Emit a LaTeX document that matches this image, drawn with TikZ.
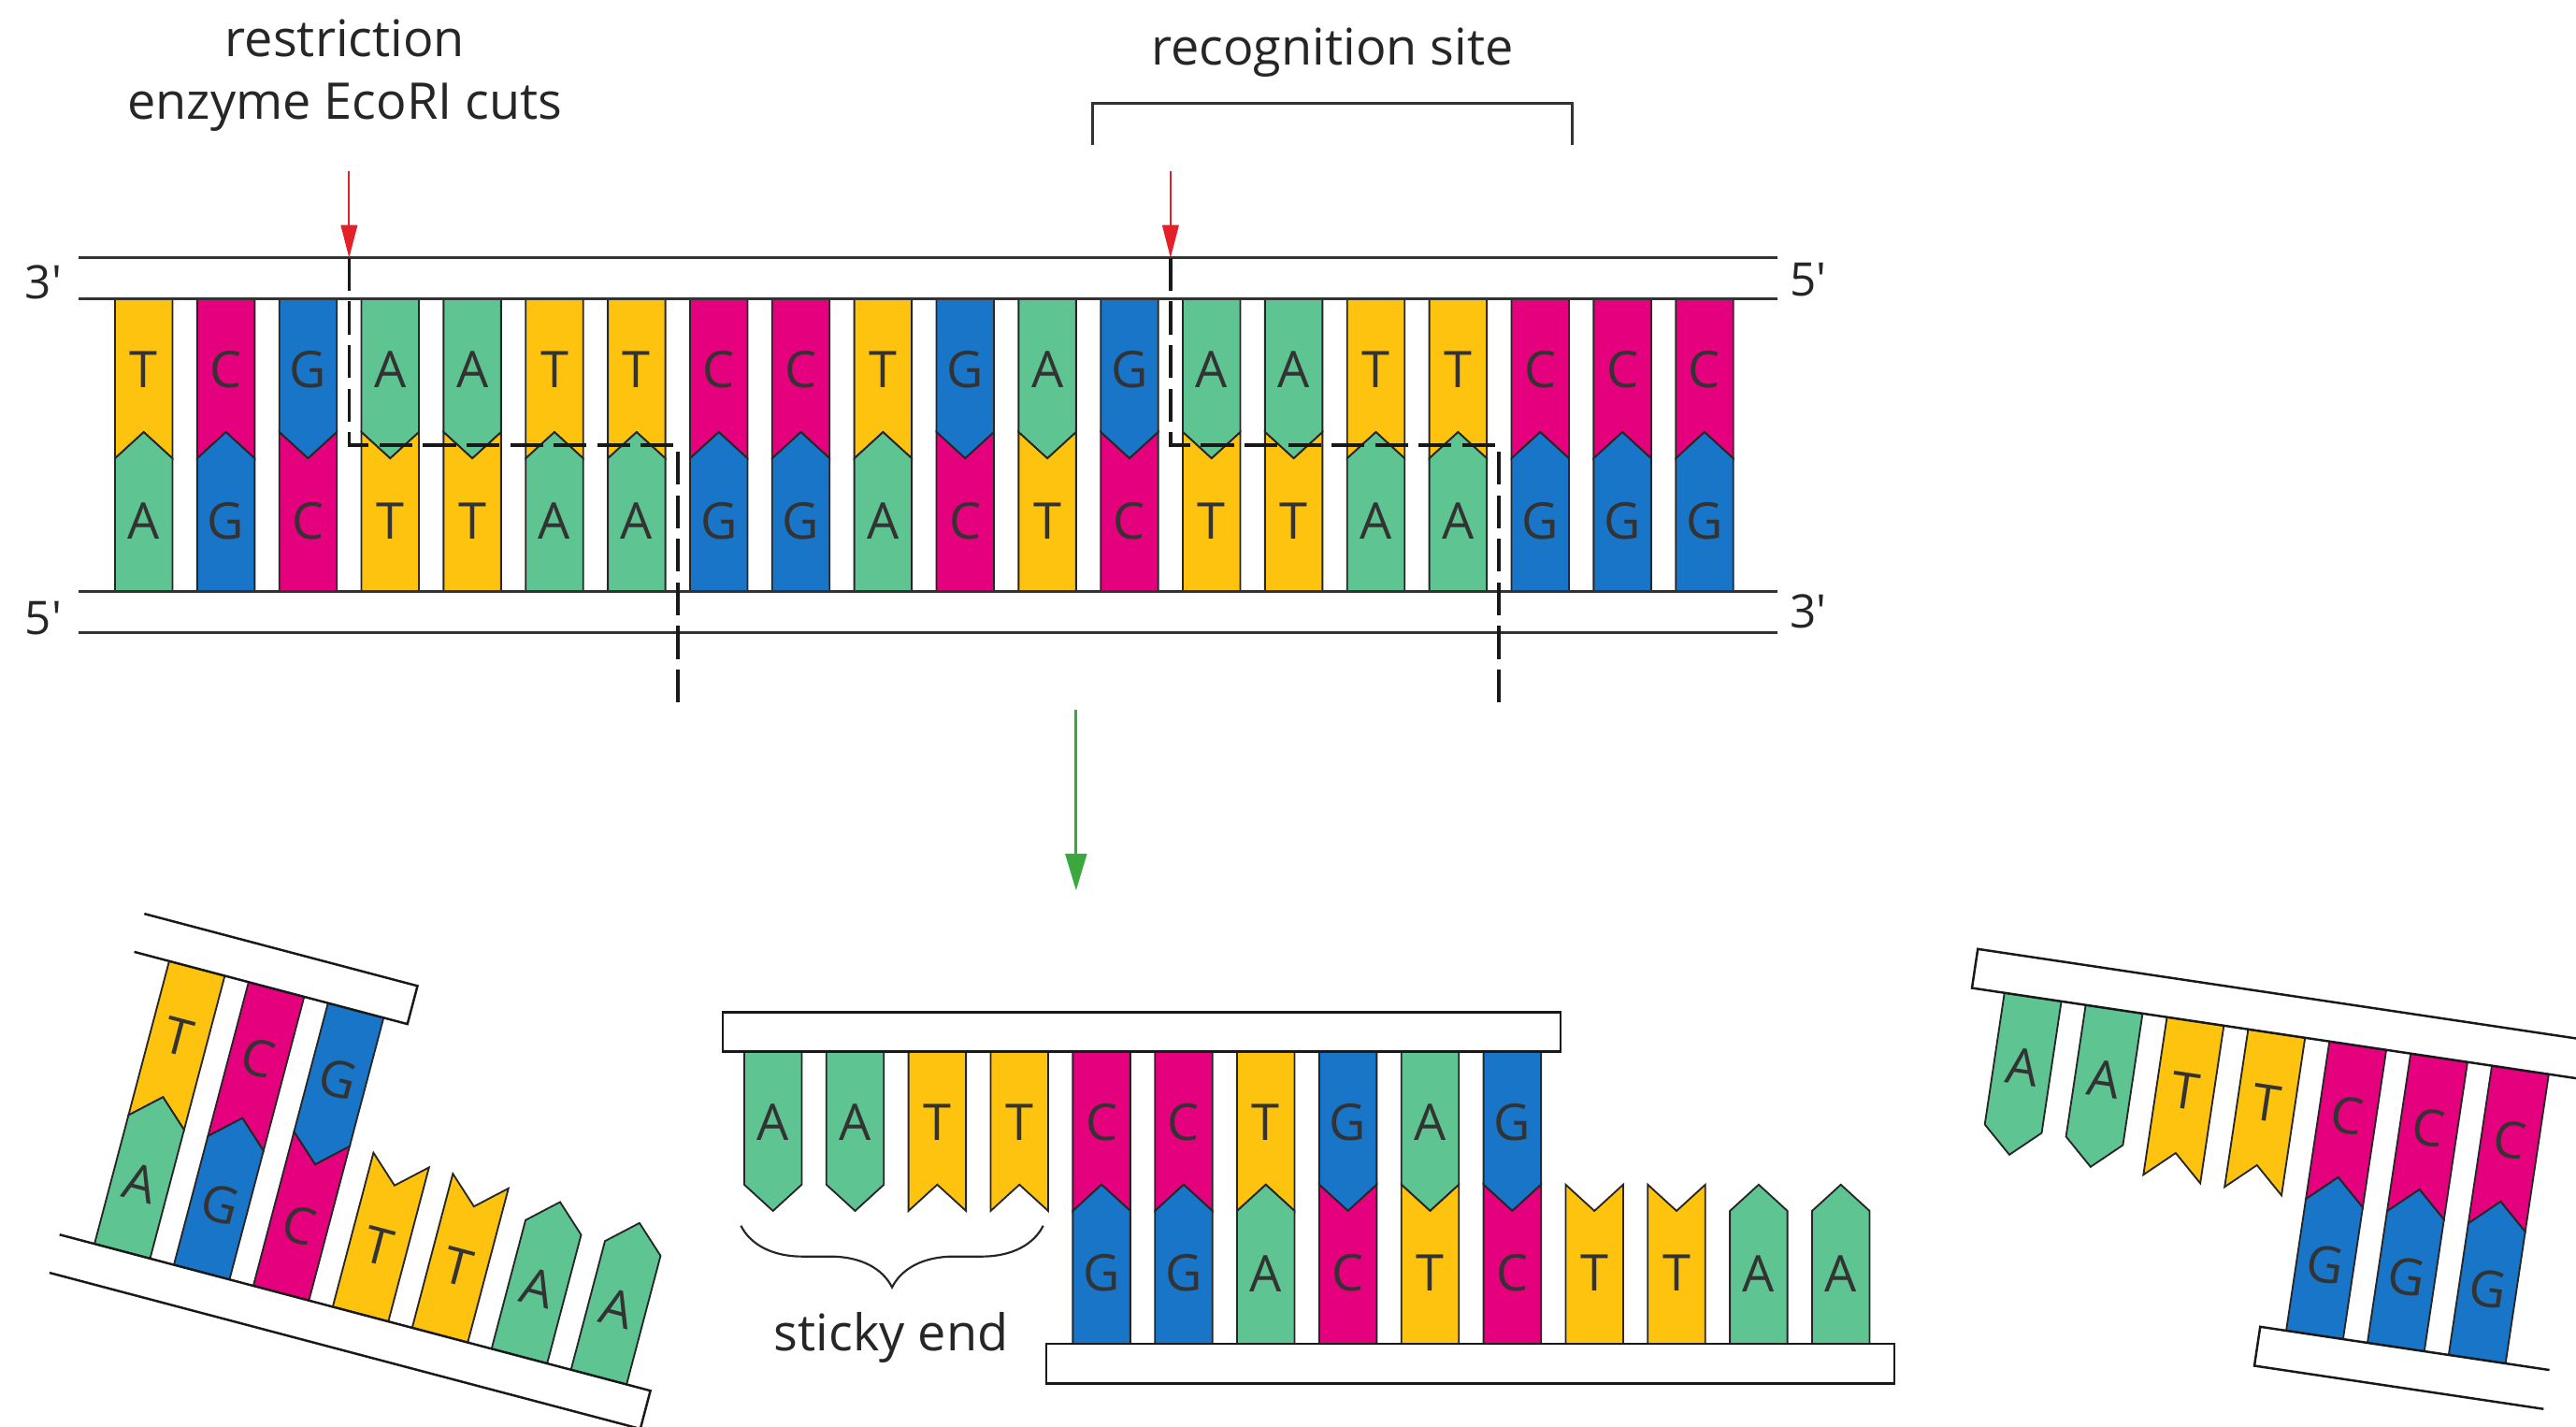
\documentclass[tikz,border=0pt]{standalone}
\usepackage{fontspec}
\setmainfont{Open Sans}[Ligatures=TeXOff]
\usepackage{tikz}
\usetikzlibrary{arrows.meta,decorations.pathreplacing}

\definecolor{ntA}{RGB}{94,196,145}
\definecolor{ntT}{RGB}{253,195,14}
\definecolor{ntG}{RGB}{24,117,199}
\definecolor{ntC}{RGB}{229,0,125}
\definecolor{cutred}{RGB}{228,32,40}
\definecolor{splitgreen}{RGB}{58,168,60}

% purines get a point, pyrimidines a notch
\def\puA{1}\def\puG{1}\def\puC{-1}\def\puT{-1}
\def\sgnt{1}\def\sgnb{-1}
\newcommand{\frag}{m}
\newcommand{\primeend}{\char"0027\relax}

% \nuc{column}{base}{t or b}
\newcommand{\nuc}[3]{%
  \pgfmathsetmacro{\ed}{(\csname sgn#3\endcsname)*(\csname pu#2\endcsname)*8}%
  \pgfmathsetmacro{\ap}{-(\csname sgn#3\endcsname)*(\csname pu#2\endcsname)*8}%
  \pgfmathsetmacro{\xl}{#1*50}%
  \pgfmathsetmacro{\xr}{#1*50+35}%
  \pgfmathsetmacro{\xm}{#1*50+17.5}%
  \pgfmathsetmacro{\yf}{(\csname sgn#3\endcsname)*89}%
  \pgfmathsetmacro{\yl}{(\csname sgn#3\endcsname)*46}%
  \draw[nt, fill=nt#2] (\xl,\yf) -- (\xr,\yf) -- (\xr,\ed) -- (\xm,\ap) -- (\xl,\ed) -- cycle;%
  \node[ntlabel] (\frag#3#1) at (\xm,\yl) {#2};%
}

\tikzset{
  nt/.style={draw=black!85, line width=0.6pt, line join=miter},
  ntlabel/.style={font=\fontsize{17.5}{20}\selectfont, text=black!80, inner sep=0pt},
  txt/.style={font=\fontsize{17.5}{21.6}\selectfont, text=black!85, inner sep=0pt},
  endlabel/.style={font=\fontsize{16}{19}\selectfont, text=black!85, inner sep=0pt},
  strandline/.style={draw=black!80, line width=1pt},
  strandbar/.style={draw=black!90, line width=0.8pt, fill=white},
  cutline/.style={draw=black!90, line width=1.2pt, dash pattern=on 4mm off 1.3mm},
  enzarrow/.style={draw=cutred, line width=0.6pt, -{Triangle[length=4mm,width=2mm]}},
  splitarrow/.style={draw=splitgreen, line width=1pt, -{Triangle[length=4.5mm,width=2.6mm]}}
}

\begin{document}
\begin{tikzpicture}[x=0.2mm, y=0.2mm]
  \clip (0,0) rectangle (1568,868);

  % whole molecule
  \begin{scope}[shift={(70,597)}]
    \renewcommand{\frag}{m}
    \foreach \nb [count=\k from 0] in {T,C,G,A,A,T,T,C,C,T,G,A,G,A,A,T,T,C,C,C} {\nuc{\k}{\nb}{t}}
    \foreach \nb [count=\k from 0] in {A,G,C,T,T,A,A,G,G,A,C,T,C,T,T,A,A,G,G,G} {\nuc{\k}{\nb}{b}}
    \foreach \y in {114,89,-89,-114} \draw[strandline] (-22,\y) -- (1012,\y);
    \node[endlabel, anchor=east] (mlt) at (-32,99) {3\primeend};
    \node[endlabel, anchor=west] (mrt) at (1019,101) {5\primeend};
    \node[endlabel, anchor=east] (mlb) at (-32,-105) {5\primeend};
    \node[endlabel, anchor=west] (mrb) at (1019,-101) {3\primeend};
    \coordinate (cutL) at (142.5,114);
    \coordinate (cutR) at (642.5,114);
    \coordinate (enzL) at (142.5,167);
    \coordinate (enzR) at (642.5,167);
    \draw[cutline] (cutL) -- (142.5,0) -- (342.5,0) -- (342.5,-159);
    \draw[cutline] (cutR) -- (642.5,0) -- (842.5,0) -- (842.5,-159);
    \draw[enzarrow] (enzL) -- (cutL);
    \draw[enzarrow] (enzR) -- (cutR);
  \end{scope}

  \node[txt, align=center] (enzyme) at (210,822) {restriction\\enzyme EcoRI cuts};
  \node[txt] (recog) at (811,836) {recognition site};
  \draw[strandline] (665,780) -- (665,805) -- (957,805) -- (957,780);

  \coordinate (splitfrom) at (655,436);
  \coordinate (splitto) at (655,326);
  \draw[splitarrow] (splitfrom) -- (splitto);

  % left piece
  \begin{scope}[shift={(80.25,197)}, rotate=-14.8, transform shape]
    \renewcommand{\frag}{l}
    \foreach \nb [count=\k from 0] in {T,C,G} {\nuc{\k}{\nb}{t}}
    \foreach \nb [count=\k from 0] in {A,G,C,T,T,A,A} {\nuc{\k}{\nb}{b}}
    \draw[strandbar] (-22,113) -- (150,113) -- (150,89) -- (-22,89);
    \draw[strandbar] (-22,-89) -- (350,-89) -- (350,-113) -- (-22,-113);
  \end{scope}

  % middle piece
  \begin{scope}[shift={(453,139)}]
    \renewcommand{\frag}{c}
    \foreach \nb [count=\k from 0] in {A,A,T,T,C,C,T,G,A,G} {\nuc{\k}{\nb}{t}}
    \foreach \nb [count=\k from 4] in {G,G,A,C,T,C,T,T,A,A} {\nuc{\k}{\nb}{b}}
    \draw[strandbar] (-13,89) rectangle (497,113);
    \draw[strandbar] (184,-89) rectangle (700,-113);
    \draw[draw=black!85, line width=0.7pt, decorate, decoration={brace, mirror, amplitude=7.5mm}] (-2,-17) -- (182,-17);
    \node[txt] (sticky) at (89.5,-85) {sticky end};
  \end{scope}

  % right piece
  \begin{scope}[shift={(1206.95,175.7)}, rotate=-8.5, transform shape]
    \renewcommand{\frag}{r}
    \foreach \nb [count=\k from 0] in {A,A,T,T,C,C,C} {\nuc{\k}{\nb}{t}}
    \foreach \nb [count=\k from 4] in {G,G,G} {\nuc{\k}{\nb}{b}}
    \draw[strandbar] (420,113) -- (-20,113) -- (-20,89) -- (420,89);
    \draw[strandbar] (362,-89) -- (184,-89) -- (184,-113) -- (362,-113);
  \end{scope}
\end{tikzpicture}
\end{document}
